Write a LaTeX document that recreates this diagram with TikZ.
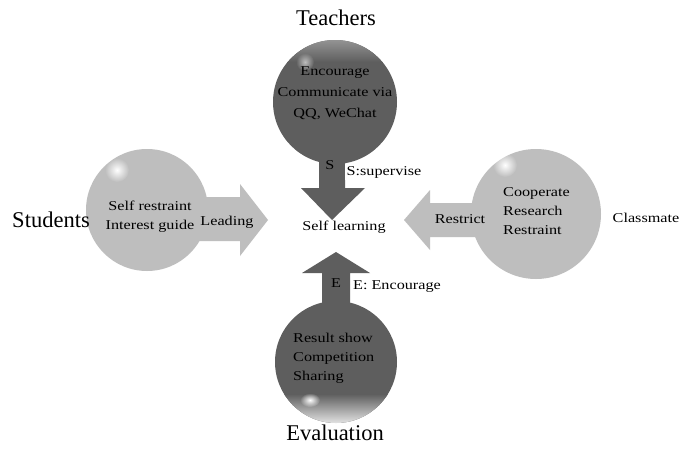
\documentclass[tikz,border=0pt]{standalone}
\usepackage{fontspec}
\usetikzlibrary{fadings}
\setmainfont{Liberation Serif}
\newfontfamily\lblfont[FakeStretch=1.2]{Liberation Serif}
\definecolor{lightball}{HTML}{BEBEBE}
\definecolor{darkball}{HTML}{5E5E5E}
\definecolor{rimgray}{HTML}{989898}
\tikzfading[name=softspot, inner color=transparent!0, outer color=transparent!100]
\begin{document}
\begin{tikzpicture}[x=1pt,y=-1pt,
  ball/.style={circle, inner sep=0pt, minimum size=#1},
  title/.style={font=\fontsize{22.5}{25}\selectfont, inner sep=1pt},
  lbl/.style={font=\lblfont\fontsize{13.5}{19}\selectfont, inner sep=1pt},
  boxed/.style={lbl, fill=white, inner sep=2pt},
  gloss/.style={fill=white, path fading=softspot},
  ]
\useasboundingbox[fill=white] (0,0) rectangle (694,450);

% block arrows pointing to the centre
\fill[darkball] (319,140) -- (345,140) -- (345,188) -- (365,188) -- (332,220)
  -- (301,188) -- (319,188) -- cycle;
\fill[lightball] (180,197) -- (240,197) -- (240,184) -- (268,220) -- (240,256)
  -- (240,241) -- (180,241) -- cycle;
\fill[lightball] (490,203) -- (430,203) -- (430,190) -- (404,220) -- (430,250)
  -- (430,237) -- (490,237) -- cycle;
\fill[darkball] (322,330) -- (322,273) -- (302,273) -- (336,252) -- (370,273)
  -- (350,273) -- (350,330) -- cycle;

% spheres
\node[ball=124, fill=darkball] (T) at (335,102) {};
\node[ball=122, fill=lightball] (St) at (147,210) {};
\node[ball=130, fill=lightball] (C) at (536,214) {};
\node[ball=122, fill=darkball] (Ev) at (336,362) {};

% glossy touches
\begin{scope}
  \clip (T) circle (62);
  \shade[top color=rimgray, bottom color=darkball] (270,38) rectangle (400,62);
  \fill[gloss, opacity=0.6] (305,62) circle (9);
\end{scope}
\begin{scope}
  \clip (Ev) circle (61);
  \shade[top color=darkball, bottom color=white!85!darkball] (270,394) rectangle (400,424);
  \fill[gloss] (310,400) ellipse (10 and 7);
\end{scope}
\fill[gloss] (117,170) circle (12);
\fill[gloss] (505,165) circle (12);

% group titles
\node[title] (tT) at (336,18) {Teachers};
\node[title] (tS) at (51,220) {Students};
\node[title] (tE) at (335,433) {Evaluation};
\node[lbl] (tC) at (646,218) {Classmate};

% sphere contents
\node[lbl, align=center, font=\lblfont\fontsize{13.5}{21}\selectfont] (cT) at (335,93)
  {Encourage\\Communicate via\\QQ, WeChat};
\node[lbl, align=center] (cS) at (150,217) {Self restraint\\Interest guide};
\node[lbl, align=left, anchor=west] (cC) at (502,211) {Cooperate\\Research\\Restraint};
\node[lbl, align=left, anchor=west] (cE) at (292,358) {Result show\\Competition\\Sharing};

% centre and arrow labels
\node[lbl] (SL) at (344,227) {Self learning};
\node[lbl] (aS) at (330,165) {S};
\node[boxed] (lS) at (384,172) {S:supervise};
\node[lbl] (aL) at (227,222) {Leading};
\node[lbl] (aR) at (460,219) {Restrict};
\node[lbl] (aE) at (336,283) {E};
\node[boxed] (lE) at (397,287) {E: Encourage};
\end{tikzpicture}
\end{document}
